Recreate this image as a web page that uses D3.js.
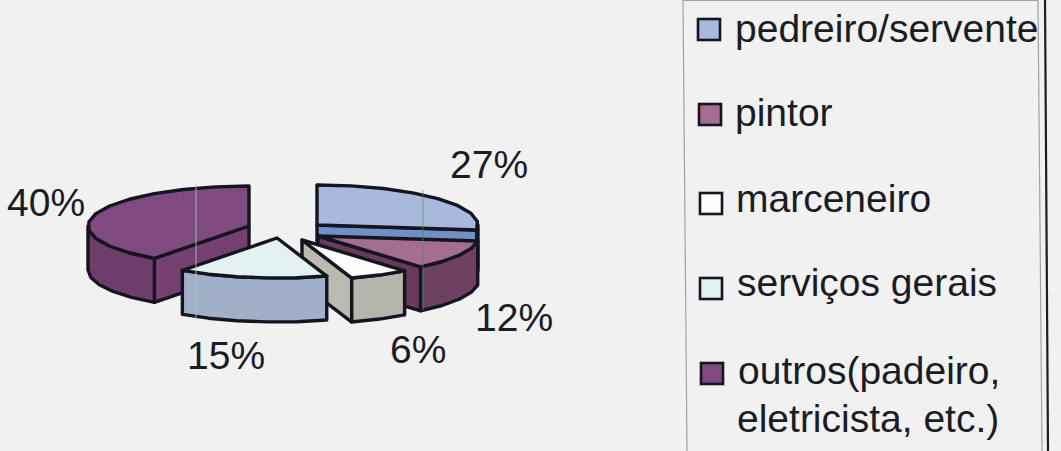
<!DOCTYPE html>
<html lang="pt">
<head>
<meta charset="utf-8">
<title>Profissões</title>
<script src="https://cdn.jsdelivr.net/npm/d3@7"></script>
<style>
  html, body { margin: 0; padding: 0; background: #f1f1f1; overflow: hidden; }
  svg { display: block; }
  text { font-family: "Liberation Sans", Arial, sans-serif; font-size: 39px; fill: #1b1c24; }
</style>
</head>
<body>
<svg id="chart" width="1061" height="451"></svg>
<script>
// Chart content
const categories = ["pedreiro/servente", "pintor", "marceneiro", "serviços gerais", "outros(padeiro, eletricista, etc.)"];
const shares = [27, 12, 6, 15, 40];

// Colours per slice: top face, outer wall, cut wall
const topColors = ["#a9b9de", "#a66d92", "#fcfcfa", "#e3f1f2", "#7e4a80"];
const wallColors = ["#6f8fc6", "#6d3f60", "#b4b6ac", "#a1afc9", "#6e3d6c"];
const cutColors = ["#6f8fc6", "#6a3a5c", "#b9bbb1", "#a1afc9", "#74406f"];

// Layout of the tilted, exploded pie
const radiusX = d3.scaleLinear().domain([0, 1]).range([0, 161]);
const radiusY = d3.scaleLinear().domain([0, 1]).range([0, 40]);
const depth = 44;
const sliceCentres = [[317, 225], [318, 236], [302, 240], [277, 238], [249, 226]];
const paintOrder = [0, 4, 1, 2, 3];
const labelAnchors = [[450, 178], [475, 331], [390, 363], [187, 369], [7, 216]];

// Legend layout; the frame leans a little to the right going down
const legendRows = [
  { swatch: [697, 18], lines: [[735, 42]] },
  { swatch: [698, 103], lines: [[735, 126]] },
  { swatch: [699, 192], lines: [[736, 212]] },
  { swatch: [699, 277], lines: [[737, 296]] },
  { swatch: [700, 362], lines: [[738, 384], [737, 432]] }
];
const legendLabelLines = [[categories[0]], [categories[1]], [categories[2]], [categories[3]], ["outros(padeiro,", "eletricista, etc.)"]];

const svg = d3.select("#chart");
const pie = d3.pie().sort(null).value(d => d)(shares);
const line = d3.line();
const stroke = "#15151f";

// Screen position of a pie angle (clockwise from 12 o'clock) at a given drop below the top face
function project(centre, angle, drop = 0) {
  return [centre[0] + radiusX(Math.sin(angle)), centre[1] - radiusY(Math.cos(angle)) + drop];
}

function rim(start, end) {
  const steps = Math.max(2, Math.ceil((end - start) / (Math.PI / 14)));
  return d3.range(steps + 1).map(i => start + (end - start) * i / steps);
}

function shape(points, fill, width = 3.4) {
  g.append("path")
    .attr("d", line(points) + "Z")
    .attr("fill", fill)
    .attr("stroke", stroke)
    .attr("stroke-width", width)
    .attr("stroke-linejoin", "round");
}

const g = svg.append("g").attr("class", "pie");

paintOrder.forEach(i => {
  const s = pie[i];
  const c = sliceCentres[i];
  const a0 = s.startAngle, a1 = s.endAngle;
  const apex = c, apexLow = [c[0], c[1] + depth];

  // Cut faces, only the ones turned towards the viewer
  if (a0 > Math.PI && a0 < 2 * Math.PI) {
    shape([apex, project(c, a0), project(c, a0, depth), apexLow], cutColors[i]);
  }
  if (a1 > 0 && a1 < Math.PI) {
    shape([apex, project(c, a1), project(c, a1, depth), apexLow], cutColors[i]);
  }

  // Outer wall over the front half of the ellipse
  const w0 = Math.max(a0, Math.PI / 2), w1 = Math.min(a1, 3 * Math.PI / 2);
  if (w1 > w0) {
    const angles = rim(w0, w1);
    shape([
      ...angles.map(a => project(c, a)),
      ...angles.slice().reverse().map(a => project(c, a, depth))
    ], wallColors[i]);
  }

  // Top face
  shape([apex, ...rim(a0, a1).map(a => project(c, a))], topColors[i]);
});

// Faint vertical streaks crossing the pie
svg.append("path")
  .attr("d", line([[196, 185], [196, 320]]))
  .attr("fill", "none").attr("stroke", "#9fd0b8").attr("stroke-width", 1.6).attr("opacity", 0.55);
svg.append("path")
  .attr("d", line([[423, 190], [423, 310]]))
  .attr("fill", "none").attr("stroke", "#3c9a55").attr("stroke-width", 1.4).attr("opacity", 0.5);

// Percentage labels
svg.append("g").selectAll("text").data(shares).join("text")
  .attr("x", (d, i) => labelAnchors[i][0])
  .attr("y", (d, i) => labelAnchors[i][1])
  .text(d => d + "%");

// Legend frame and outer rule
svg.append("path")
  .attr("d", line([[683, 0], [687, 451]]) + line([[1038, 0], [1042, 451]]) + line([[683, 0.5], [1038, 0.5]]))
  .attr("fill", "none").attr("stroke", "#a0a1a1").attr("stroke-width", 1.2);
svg.append("path")
  .attr("d", line([[1045, 0], [1048, 451]]))
  .attr("fill", "none").attr("stroke", "#1d1d22").attr("stroke-width", 2.2);

const legend = svg.append("g").attr("class", "legend");
legendRows.forEach((row, i) => {
  legend.append("rect")
    .attr("x", row.swatch[0] + 1).attr("y", row.swatch[1] + 1)
    .attr("width", 22).attr("height", 21)
    .attr("fill", topColors[i])
    .attr("stroke", stroke).attr("stroke-width", 2.6);
  row.lines.forEach((p, j) => {
    legend.append("text").attr("x", p[0]).attr("y", p[1]).text(legendLabelLines[i][j]);
  });
});
</script>
</body>
</html>
